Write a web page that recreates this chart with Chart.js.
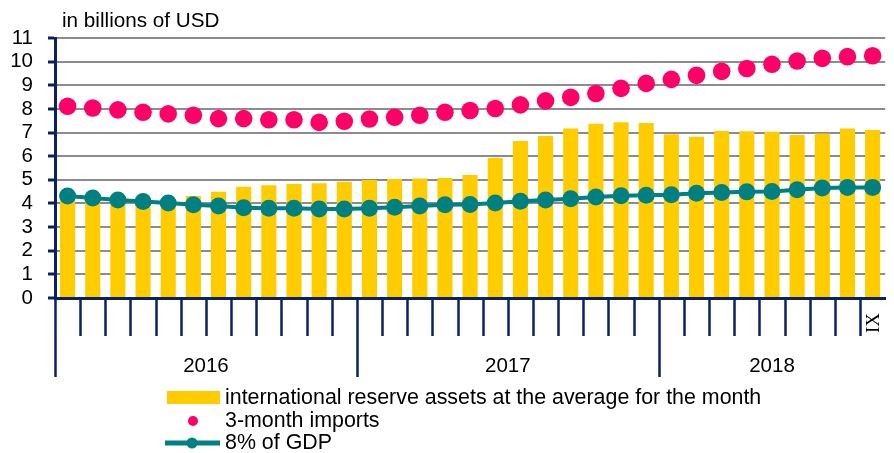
<!DOCTYPE html>
<html>
<head>
<meta charset="utf-8">
<script src="https://cdn.jsdelivr.net/npm/chart.js@4.4.0/dist/chart.umd.min.js"></script>
<style>
  html, body { margin: 0; padding: 0; background: #fff; }
  #wrap { width: 894px; height: 453px; position: relative; }
</style>
</head>
<body>
<div id="wrap"><canvas id="reserveChart"></canvas></div>
<script>
// Years and number of months shown in each
const years = ["2016", "2017", "2018"];
const monthsInYear = [12, 12, 9];
const romanMonths = ["I", "II", "III", "IV", "V", "VI", "VII", "VIII", "IX", "X", "XI", "XII"];
const lastMonthLabel = "IX";

// Series, billions of USD (Jan 2016 - Sep 2018)
const reserveAssets = [4.15, 4.05, 4.05, 4.1, 4.1, 4.32, 4.5, 4.71, 4.77, 4.82, 4.86, 4.92,
  4.99, 5.03, 5.06, 5.08, 5.2, 5.92, 6.64, 6.85, 7.17, 7.37, 7.44, 7.4,
  6.93, 6.82, 7.07, 7.05, 7.03, 6.9, 6.96, 7.17, 7.11];
const imports3m = [8.11, 8.04, 7.96, 7.86, 7.79, 7.73, 7.59, 7.59, 7.54, 7.54, 7.43, 7.48,
  7.57, 7.65, 7.73, 7.86, 7.93, 8.02, 8.17, 8.34, 8.49, 8.65, 8.87, 9.08,
  9.25, 9.42, 9.59, 9.71, 9.89, 10.03, 10.14, 10.21, 10.25];
const gdp8 = [4.32, 4.23, 4.15, 4.08, 4.02, 3.95, 3.89, 3.82, 3.8, 3.8, 3.77, 3.77,
  3.8, 3.84, 3.89, 3.95, 3.96, 4.02, 4.09, 4.15, 4.2, 4.27, 4.33, 4.35,
  4.37, 4.43, 4.46, 4.49, 4.51, 4.58, 4.65, 4.68, 4.68];

const yMin = 0;
const yMax = 11;
const yStep = 1;
const unitTitle = "in billions of USD";
const legendLabels = ["international reserve assets at the average for the month", "3-month imports", "8% of GDP"];

const labels = [];
years.forEach((y, i) => {
  for (let m = 0; m < monthsInYear[i]; m++) labels.push(romanMonths[m] + " " + y);
});

const NAVY = "#0b2260";
const YELLOW = "#FFCC00";
const PINK = "#FF0066";
const TEAL = "#008080";
const FONT = "'Liberation Sans', Arial, sans-serif";

const ctx = document.getElementById("reserveChart").getContext("2d");

const extras = {
  id: "extras",
  afterDraw(chart) {
    const c = chart.ctx;
    const x = chart.scales.x;
    const bottom = chart.chartArea.bottom;
    const w = x.width / labels.length;

    c.save();
    // month ticks and year separators
    c.strokeStyle = NAVY;
    c.lineWidth = 2.5;
    let start = 0;
    const yearStarts = [];
    monthsInYear.forEach(n => { yearStarts.push(start); start += n; });
    for (let k = 0; k < labels.length; k++) {
      const px = Math.round(x.left + k * w) + 0.5;
      const len = yearStarts.includes(k) ? 79 : 38;
      c.beginPath();
      c.moveTo(px, bottom);
      c.lineTo(px, bottom + len);
      c.stroke();
    }

    // year labels
    c.fillStyle = "#000";
    c.font = "20.5px " + FONT;
    c.textAlign = "center";
    c.textBaseline = "alphabetic";
    years.forEach((yr, i) => {
      const from = x.left + yearStarts[i] * w;
      const to = x.left + (yearStarts[i] + monthsInYear[i]) * w;
      c.fillText(yr, (from + to) / 2, 372);
    });

    // last month label, rotated
    const lastX = x.getPixelForValue(labels.length - 1);
    c.save();
    c.translate(lastX + 1, 323);
    c.rotate(-Math.PI / 2);
    c.font = "19px 'Liberation Serif', serif";
    c.textAlign = "center";
    c.textBaseline = "middle";
    c.fillText(lastMonthLabel, 0, 0);
    c.restore();

    // unit title
    c.textAlign = "left";
    c.textBaseline = "alphabetic";
    c.font = "20.7px " + FONT;
    c.fillText(unitTitle, 62, 27);

    // legend
    c.font = "21.4px " + FONT;
    c.textBaseline = "middle";
    c.fillStyle = YELLOW;
    c.fillRect(167, 391, 53, 13);
    c.fillStyle = PINK;
    c.beginPath();
    c.arc(193, 421, 5, 0, Math.PI * 2);
    c.fill();
    c.strokeStyle = TEAL;
    c.lineWidth = 5;
    c.beginPath();
    c.moveTo(165, 443);
    c.lineTo(220, 443);
    c.stroke();
    c.fillStyle = TEAL;
    c.beginPath();
    c.arc(192, 443, 5.5, 0, Math.PI * 2);
    c.fill();
    c.fillStyle = "#000";
    c.fillText(legendLabels[0], 225, 398);
    c.fillText(legendLabels[1], 225, 421);
    c.fillText(legendLabels[2], 225, 443);
    c.restore();
  }
};

new Chart(ctx, {
  type: "bar",
  data: {
    labels: labels,
    datasets: [
      {
        type: "line",
        label: legendLabels[2],
        data: gdp8,
        borderColor: TEAL,
        backgroundColor: TEAL,
        borderWidth: 4,
        pointRadius: 8.5,
        pointBorderWidth: 0,
        tension: 0,
        order: 1,
      },
      {
        type: "line",
        label: legendLabels[1],
        data: imports3m,
        showLine: false,
        backgroundColor: PINK,
        borderColor: PINK,
        pointRadius: 8.8,
        pointBorderWidth: 0,
        order: 2,
      },
      {
        type: "bar",
        label: legendLabels[0],
        data: reserveAssets,
        backgroundColor: YELLOW,
        barPercentage: 0.6,
        categoryPercentage: 1,
        order: 3,
      },
    ],
  },
  options: {
    responsive: true,
    maintainAspectRatio: false,
    animation: false,
    layout: { padding: { top: 38, right: 1, left: 0, bottom: 0 } },
    scales: {
      x: {
        offset: true,
        grid: { display: false },
        border: { color: NAVY, width: 3 },
        ticks: { display: false },
        afterFit: function (scale) { scale.height = 155; },
      },
      y: {
        min: yMin,
        max: yMax,
        grid: {
          color: "#8c8c8c",
          lineWidth: 2,
          tickLength: 7,
          tickColor: NAVY,
          tickWidth: 3,
        },
        border: { color: NAVY, width: 3 },
        ticks: {
          stepSize: yStep,
          autoSkip: false,
          padding: 15,
          color: "#000",
          font: { family: FONT, size: 20.5 },
        },
        afterFit: function (scale) { scale.width = 55; },
      },
    },
    plugins: {
      legend: { display: false },
      tooltip: { enabled: false },
    },
  },
  plugins: [extras],
});
</script>
</body>
</html>
